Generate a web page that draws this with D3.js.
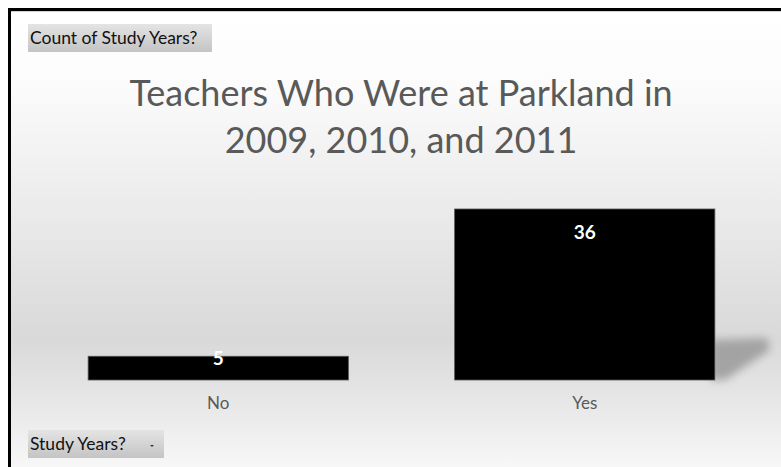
<!DOCTYPE html>
<html>
<head>
<meta charset="utf-8">
<script src="https://cdn.jsdelivr.net/npm/d3@7"></script>
<style>
  body { margin: 0; background: #fff; }
  svg { display: block; }
</style>
</head>
<body>
<svg width="781" height="467"></svg>
<script>
// chart values
var categories = ['No', 'Yes'];
var counts = [5, 36];
var titleLines = ['Teachers Who Were at Parkland in', '2009, 2010, and 2011'];
var fieldButton = 'Count of Study Years?';
var axisButton = 'Study Years?';

var svg = d3.select('svg');
var W = +svg.attr('width');
var H = +svg.attr('height');
var font = 'Lato, "Open Sans", sans-serif';

var defs = svg.append('defs');

// background fade, white at the top to grey behind the bars
var bg = defs.append('linearGradient')
    .attr('id', 'bg')
    .attr('x1', 0).attr('y1', 0).attr('x2', 0).attr('y2', 1);
[[0, '#ffffff'], [0.15, '#fcfcfc'], [0.45, '#eaeaea'], [0.72, '#d9d9d9'],
 [0.82, '#e3e3e3'], [1, '#f7f7f7']].forEach(function(s) {
    bg.append('stop').attr('offset', s[0]).attr('stop-color', s[1]);
});

var btn = defs.append('linearGradient')
    .attr('id', 'btn')
    .attr('x1', 0).attr('y1', 0).attr('x2', 0).attr('y2', 1);
btn.append('stop').attr('offset', 0).attr('stop-color', '#e4e4e4');
btn.append('stop').attr('offset', 1).attr('stop-color', '#c4c4c4');

defs.append('filter')
    .attr('id', 'blur')
    .attr('x', '-30%').attr('y', '-30%').attr('width', '160%').attr('height', '160%')
    .append('feGaussianBlur')
    .attr('stdDeviation', 4);

svg.append('rect')
    .attr('x', 10).attr('y', 10)
    .attr('width', W - 10).attr('height', H - 10)
    .attr('fill', 'url(#bg)');

// frame (only top and left edges are inside the picture)
svg.append('path')
    .attr('d', 'M9.5,' + H + 'V9.5H' + W)
    .attr('fill', 'none')
    .attr('stroke', '#000')
    .attr('stroke-width', 3);
svg.append('line')
    .attr('x1', 11).attr('x2', W).attr('y1', 11.5).attr('y2', 11.5)
    .attr('stroke', '#cfcfcf');

// scales
var x = d3.scaleBand()
    .domain(categories)
    .range([35, 768])
    .paddingInner(0.29)
    .paddingOuter(0.145);
var y = d3.scaleLinear()
    .domain([0, 40])
    .range([380, 190]);

var data = categories.map(function(c, i) { return {cat: c, value: counts[i]}; });

// soft perspective shadow behind the tallest bar
var big = data[d3.maxIndex(data, function(d) { return d.value; })];
var sx = x(big.cat) + x.bandwidth();
var base = y(0);
svg.append('path')
    .attr('d', d3.line()([
        [sx - 4, base - 40], [sx + 52, base - 42], [sx + 55, base - 30],
        [sx + 10, base], [sx - 4, base]
    ]))
    .attr('fill', '#9a9a9a')
    .attr('opacity', 0.85)
    .attr('filter', 'url(#blur)');

var chartG = svg.append('g');

chartG.selectAll('.bar')
    .data(data)
    .enter()
    .append('rect')
    .attr('class', 'bar')
    .attr('x', function(d) { return x(d.cat); })
    .attr('y', function(d) { return y(d.value); })
    .attr('width', x.bandwidth())
    .attr('height', function(d) { return y(0) - y(d.value); })
    .attr('fill', '#000')
    .attr('stroke', '#555')
    .attr('stroke-width', 0.8);

// data labels, inside end
chartG.selectAll('.val')
    .data(data)
    .enter()
    .append('text')
    .attr('class', 'val')
    .attr('x', function(d) { return x(d.cat) + x.bandwidth() / 2; })
    .attr('y', function(d) {
        var h = y(0) - y(d.value);
        return y(d.value) + (h > 40 ? 30 : 9);
    })
    .attr('text-anchor', 'middle')
    .attr('font-family', font)
    .attr('font-weight', 'bold')
    .attr('font-size', 19)
    .attr('fill', '#fff')
    .text(function(d) { return d.value; });

// category axis labels (no axis line)
var xAxis = d3.axisBottom(x).tickSize(0).tickPadding(0);
var axisG = svg.append('g')
    .attr('transform', 'translate(0,' + (y(0) + 17) + ')')
    .call(xAxis);
axisG.select('.domain').remove();
axisG.selectAll('text')
    .attr('dy', '0.71em')
    .attr('font-family', font)
    .attr('font-size', 17)
    .attr('fill', '#595959');

// title
svg.append('text')
    .attr('text-anchor', 'middle')
    .attr('font-family', font)
    .attr('font-size', 36)
    .attr('fill', '#595959')
    .selectAll('tspan')
    .data(titleLines)
    .enter()
    .append('tspan')
    .attr('x', 401)
    .attr('y', function(d, i) { return 106 + i * 47; })
    .text(function(d) { return d; });

// pivot field buttons
function fieldBtn(x0, y0, w, label, arrow) {
    var g = svg.append('g').attr('transform', 'translate(' + x0 + ',' + y0 + ')');
    g.append('rect')
        .attr('width', w).attr('height', 28)
        .attr('fill', 'url(#btn)');
    g.append('text')
        .attr('x', 2).attr('y', 20)
        .attr('font-family', font)
        .attr('font-size', 17.5)
        .attr('fill', '#111')
        .text(label);
    if (arrow) {
        g.append('path')
            .attr('d', 'M' + (w - 14) + ',15h4l-2,2z')
            .attr('fill', '#333');
    }
}
fieldBtn(28, 24, 184, fieldButton, false);
fieldBtn(28, 430, 136, axisButton, true);
</script>
</body>
</html>
